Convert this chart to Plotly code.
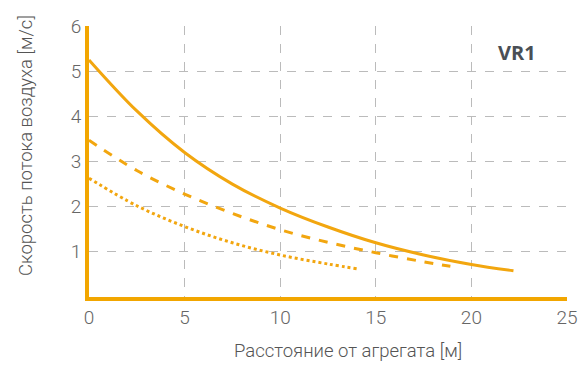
import plotly.graph_objects as go

# Distance [m] and air speed [m/s]
x_solid = [0, 2.5, 5, 7.5, 10, 12.5, 15, 17.5, 20, 22.2]
y_solid = [5.25, 4.12, 3.2, 2.5, 1.97, 1.55, 1.2, 0.93, 0.72, 0.58]

x_dash = [0, 2.5, 5, 7.5, 10, 12.5, 15, 17.5, 18.9]
y_dash = [3.47, 2.8, 2.28, 1.85, 1.49, 1.21, 0.98, 0.78, 0.68]

x_dot = [0, 2.5, 5, 7.5, 10, 12.5, 14.1]
y_dot = [2.63, 2.02, 1.56, 1.2, 0.93, 0.73, 0.62]

x_ticks = [0, 5, 10, 15, 20, 25]
y_ticks = [1, 2, 3, 4, 5, 6]

x_title = "Расстояние от агрегата [м]"
y_title = "Скорость потока воздуха [м/с]"
label = "VR1"

ORANGE = "#F2A60F"
AXIS = "#F2A600"

fig = go.Figure()
for xs, ys, dash, w in [(x_solid, y_solid, "solid", 3),
                        (x_dash, y_dash, "dash", 3),
                        (x_dot, y_dot, "dot", 3)]:
    fig.add_trace(go.Scatter(x=xs, y=ys, mode="lines",
                             line=dict(color=ORANGE, width=w, dash=dash, shape="spline"),
                             showlegend=False, hoverinfo="skip"))

tickfont = dict(family="Roboto", size=19, color="#666666", weight=300)
titlefont = dict(family="Roboto", size=18.5, color="#555555", weight=300)

common = dict(showgrid=True, automargin=False, gridcolor="#BBBBBB", griddash="dash",
              gridwidth=1, showline=True, linecolor=AXIS, linewidth=4, zeroline=False,
              ticks="", tickfont=tickfont)
fig.update_xaxes(range=[0, 25], tickvals=x_ticks, **common)
fig.update_yaxes(range=[0, 6], tickvals=y_ticks, **common)

fig.add_annotation(text=x_title, x=0.541, y=-0.199, xref="paper", yref="paper",
                   xanchor="center", yanchor="middle", showarrow=False, font=titlefont)
fig.add_annotation(text=y_title, x=-0.1318, y=0.561, xref="paper", yref="paper",
                   xanchor="center", yanchor="middle", textangle=-90, showarrow=False,
                   font=titlefont)
fig.add_annotation(text="<b>" + label + "</b>", x=0.94, y=0.96, xref="paper", yref="paper",
                   showarrow=False, font=dict(family="Open Sans", size=20, color="#4A4F55"))

fig.update_layout(width=572, height=357, margin=dict(l=81, r=13, t=18, b=68),
                  plot_bgcolor="white", paper_bgcolor="white")

fig.write_html("out.html")
